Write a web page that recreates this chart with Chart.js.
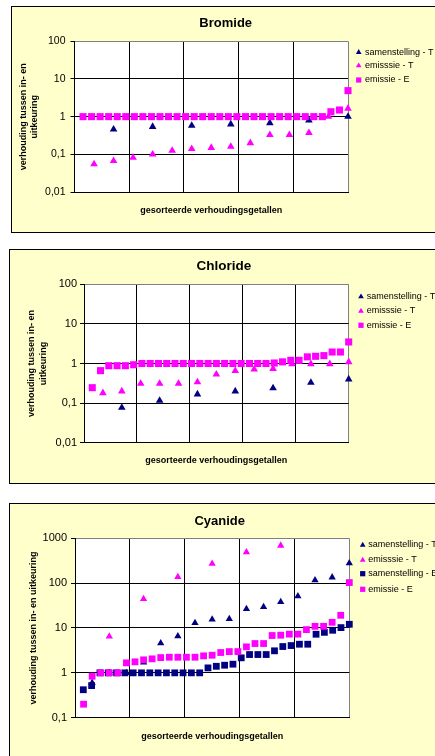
<!DOCTYPE html>
<html>
<head>
<meta charset="utf-8">
<script src="https://cdn.jsdelivr.net/npm/chart.js@4.4.1/dist/chart.umd.min.js"></script>
<style>
  html, body { margin: 0; padding: 0; background: #fff; overflow: hidden; width: 435px; height: 756px; }
  .frame { position: absolute; box-sizing: border-box; border: 1px solid #000; background: #ffffcc; }
  canvas { position: absolute; left: 0; }
</style>
</head>
<body>
<div class="frame" style="left:11px;top:6px;width:440px;height:227px"></div>
<div class="frame" style="left:9px;top:249px;width:440px;height:235px"></div>
<div class="frame" style="left:9px;top:503px;width:440px;height:300px"></div>
<canvas id="bromide" width="435" height="240" style="top:0px"></canvas>
<canvas id="chloride" width="435" height="245" style="top:245px"></canvas>
<canvas id="cyanide" width="435" height="256" style="top:500px"></canvas>
<script>
// Sorted ratios (in / out) per substance, one array per series.
const bromideSamenstellingT = [0.46, 0.54, 0.58, 0.63, 0.68, 0.80, 1.0];
const bromideEmissieT = [0.055, 0.067, 0.082, 0.10, 0.125, 0.14, 0.15, 0.16, 0.20, 0.33, 0.33, 0.37, 1.0, 1.65];
const bromideEmissieE = [1, 1, 1, 1, 1, 1, 1, 1, 1, 1, 1, 1, 1, 1, 1, 1,
                         1, 1, 1, 1, 1, 1, 1, 1, 1, 1, 1, 1, 1, 1.35, 1.5, 4.9];

const chlorideSamenstellingT = [0.077, 0.116, 0.168, 0.20, 0.24, 0.33, 0.40];
const chlorideEmissieT = [0.18, 0.20, 0.31, 0.31, 0.31, 0.34, 0.53, 0.65, 0.71, 0.74, 0.97, 0.97, 0.97, 1.09];
const chlorideEmissieE = [0.245, 0.66, 0.88, 0.88, 0.88, 0.93, 1, 1, 1, 1, 1, 1, 1, 1, 1, 1,
                          1, 1, 1, 1, 1, 1, 1.03, 1.1, 1.2, 1.2, 1.47, 1.52, 1.58, 1.95, 1.95, 3.5];

const cyanideSamenstellingT = [0.6, 1.0, 1.0, 1.7, 4.6, 6.6, 13, 15.5, 16, 26.7, 29.5, 38, 51, 116, 135, 278];
const cyanideEmissieT = [6.5, 44.7, 138, 273, 489, 689, null, null];
const cyanideSamenstellingE = [0.42, 0.52, 1, 1, 1, 1, 1, 1, 1, 1, 1, 1, 1, 1, 1, 1.29, 1.40,
                               1.48, 1.56, 2.16, 2.56, 2.56, 2.56, 3.1, 3.86, 4.06, 4.35, 4.35, 7.26, 8.0, 8.9, 10.2, 12.1];
const cyanideEmissieE = [0.20, 0.84, 1.0, 1.0, 1.0, 1.67, 1.76, 1.95, 2.05, 2.19, 2.23, 2.23, 2.23, 2.23, 2.39, 2.47,
                         2.84, 2.98, 2.98, 3.8, 4.5, 4.5, 6.8, 6.9, 7.3, 7.3, 9.2, 10.9, 10.9, 13.4, 19.2, 103];

// Axis ticks
const yTicksSmall = [0.01, 0.1, 1, 10, 100];
const yLabelsSmall = ['0,01', '0,1', '1', '10', '100'];
const yTicksLarge = [0.1, 1, 10, 100, 1000];
const yLabelsLarge = ['0,1', '1', '10', '100', '1000'];

// Text
const xTitle = 'gesorteerde verhoudingsgetallen';
const yTitleTwoLines = ['verhouding tussen in- en', 'uitkeuring'];
const yTitleOneLine = 'verhouding tussen in- en uitkeuring';
const labelSamenstellingT = 'samenstelling - T';
const labelEmissieT = 'emisssie - T';
const labelSamenstellingE = 'samenstelling - E';
const labelEmissieE = 'emissie - E';

const NAVY = '#000080';
const MAGENTA = '#ff00ff';
const FONT = '"Liberation Sans", Arial, Helvetica, sans-serif';

// Each sorted value is placed at its rank as a percentage of the series length.
function rankPoints(values) {
  return values.map((v, i) => ({ x: (i + 1) / values.length * 100, y: v }));
}

function series(label, values, color, style, radius, order) {
  return {
    label: label,
    data: rankPoints(values),
    showLine: false,
    pointStyle: style,
    pointRadius: radius,
    pointHoverRadius: radius,
    pointBackgroundColor: color,
    pointBorderColor: color,
    pointBorderWidth: 0,
    backgroundColor: color,
    borderColor: color,
    order: order,
    clip: false
  };
}

const panelDecor = {
  id: 'panelDecor',
  beforeDraw(chart) {
    const a = chart.chartArea;
    const ctx = chart.ctx;
    ctx.save();
    ctx.fillStyle = '#ffffff';
    ctx.fillRect(a.left, a.top, a.right - a.left, a.bottom - a.top);
    ctx.restore();
  },
  afterDraw(chart, args, opts) {
    const ctx = chart.ctx;
    ctx.save();
    ctx.fillStyle = '#000';
    ctx.font = 'bold ' + opts.titleSize + 'px ' + FONT;
    ctx.textAlign = 'center';
    ctx.textBaseline = 'middle';
    ctx.fillText(opts.title, opts.titleX, opts.titleY);

    ctx.font = opts.legendSize + 'px ' + FONT;
    ctx.textAlign = 'left';
    chart.data.datasets.forEach((ds, i) => {
      const y = opts.legendRows[i];
      ctx.fillStyle = ds.pointBackgroundColor;
      const r = ds.pointStyle === 'triangle' ? 3.3 : 3.7;
      Chart.helpers.drawPoint(ctx, { pointStyle: ds.pointStyle, radius: r, rotation: 0, borderWidth: 0 }, opts.legendX, y);
      ctx.fillStyle = '#000';
      ctx.fillText(ds.label, opts.legendTextX, y);
    });
    ctx.restore();
  }
};

function makeChart(id, cfg) {
  const ticks = cfg.yTicks;
  const labels = cfg.yLabels;
  const yMax = ticks[ticks.length - 1];
  return new Chart(document.getElementById(id), {
    type: 'scatter',
    data: { datasets: cfg.datasets },
    plugins: [panelDecor],
    options: {
      responsive: false,
      animation: false,
      events: [],
      layout: { padding: cfg.padding },
      plugins: {
        legend: { display: false },
        tooltip: { enabled: false },
        panelDecor: cfg.decor
      },
      scales: {
        x: {
          type: 'linear',
          min: 0,
          max: 100,
          ticks: { display: false, stepSize: 20 },
          grid: {
            drawTicks: false,
            lineWidth: 1,
            color: (c) => (c.tick && c.tick.value === 100 ? '#808080' : '#000000')
          },
          border: { display: true, color: '#000', width: 1 },
          title: {
            display: true,
            text: xTitle,
            color: '#000',
            font: { family: FONT, size: 9, weight: 'bold' },
            padding: { top: 0, bottom: 0 }
          },
          afterFit: (s) => { s.height = cfg.xHeight; }
        },
        y: {
          type: 'logarithmic',
          min: ticks[0],
          max: yMax,
          afterBuildTicks: (s) => { s.ticks = ticks.map((v) => ({ value: v })); },
          ticks: {
            autoSkip: false,
            color: '#000',
            padding: cfg.tickPadding,
            font: { family: FONT, size: cfg.tickSize },
            callback: (v, i) => labels[i]
          },
          grid: {
            drawTicks: true,
            tickLength: 4,
            tickColor: '#000',
            lineWidth: 1,
            color: (c) => (c.tick && c.tick.value === yMax ? '#808080' : '#000000')
          },
          border: { display: true, color: '#000', width: 1 },
          title: {
            display: true,
            text: cfg.yTitle,
            color: '#000',
            font: { family: FONT, size: 9, weight: 'bold', lineHeight: cfg.yTitleLineHeight },
            padding: { top: cfg.yTitleOffset, bottom: 0 }
          },
          afterFit: (s) => { s.width = cfg.yWidth; }
        }
      }
    }
  });
}

makeChart('bromide', {
  datasets: [
    series(labelSamenstellingT, bromideSamenstellingT, NAVY, 'triangle', 4.4, 3),
    series(labelEmissieT, bromideEmissieT, MAGENTA, 'triangle', 4.4, 2),
    series(labelEmissieE, bromideEmissieE, MAGENTA, 'rect', 5, 1)
  ],
  yTicks: yTicksSmall, yLabels: yLabelsSmall,
  padding: { left: 0, top: 41.3, right: 87, bottom: 24 },
  xHeight: 24, yWidth: 74.5,
  tickSize: 10.5, tickPadding: 5,
  yTitle: yTitleTwoLines, yTitleLineHeight: 1.2, yTitleOffset: 17.9,
  decor: { title: 'Bromide', titleSize: 13, titleX: 225.7, titleY: 23,
           legendSize: 9, legendX: 358.7, legendTextX: 365, legendRows: [52.3, 65.7, 80] }
});

makeChart('chloride', {
  datasets: [
    series(labelSamenstellingT, chlorideSamenstellingT, NAVY, 'triangle', 4.4, 3),
    series(labelEmissieT, chlorideEmissieT, MAGENTA, 'triangle', 4.4, 2),
    series(labelEmissieE, chlorideEmissieE, MAGENTA, 'rect', 5, 1)
  ],
  yTicks: yTicksSmall, yLabels: yLabelsSmall,
  padding: { left: 0, top: 39.3, right: 86.3, bottom: 24.3 },
  xHeight: 23, yWidth: 84,
  tickSize: 11, tickPadding: 3,
  yTitle: yTitleTwoLines, yTitleLineHeight: 1.3, yTitleOffset: 25.9,
  decor: { title: 'Chloride', titleSize: 13.5, titleX: 224, titleY: 21.7,
           legendSize: 9, legendX: 361, legendTextX: 366.7, legendRows: [51.7, 66, 80.3] }
});

makeChart('cyanide', {
  datasets: [
    series(labelSamenstellingT, cyanideSamenstellingT, NAVY, 'triangle', 4.2, 4),
    series(labelEmissieT, cyanideEmissieT, MAGENTA, 'triangle', 4.2, 3),
    series(labelSamenstellingE, cyanideSamenstellingE, NAVY, 'rect', 4.8, 2),
    series(labelEmissieE, cyanideEmissieE, MAGENTA, 'rect', 4.8, 1)
  ],
  yTicks: yTicksLarge, yLabels: yLabelsLarge,
  padding: { left: 0, top: 38.3, right: 85.7, bottom: 13.9 },
  xHeight: 24.4, yWidth: 75,
  tickSize: 11, tickPadding: 4,
  yTitle: yTitleOneLine, yTitleLineHeight: 1.2, yTitleOffset: 27.9,
  decor: { title: 'Cyanide', titleSize: 13, titleX: 219.7, titleY: 21,
           legendSize: 9, legendX: 362.7, legendTextX: 368.3, legendRows: [45, 60, 73.7, 89.3] }
});
</script>
</body>
</html>
